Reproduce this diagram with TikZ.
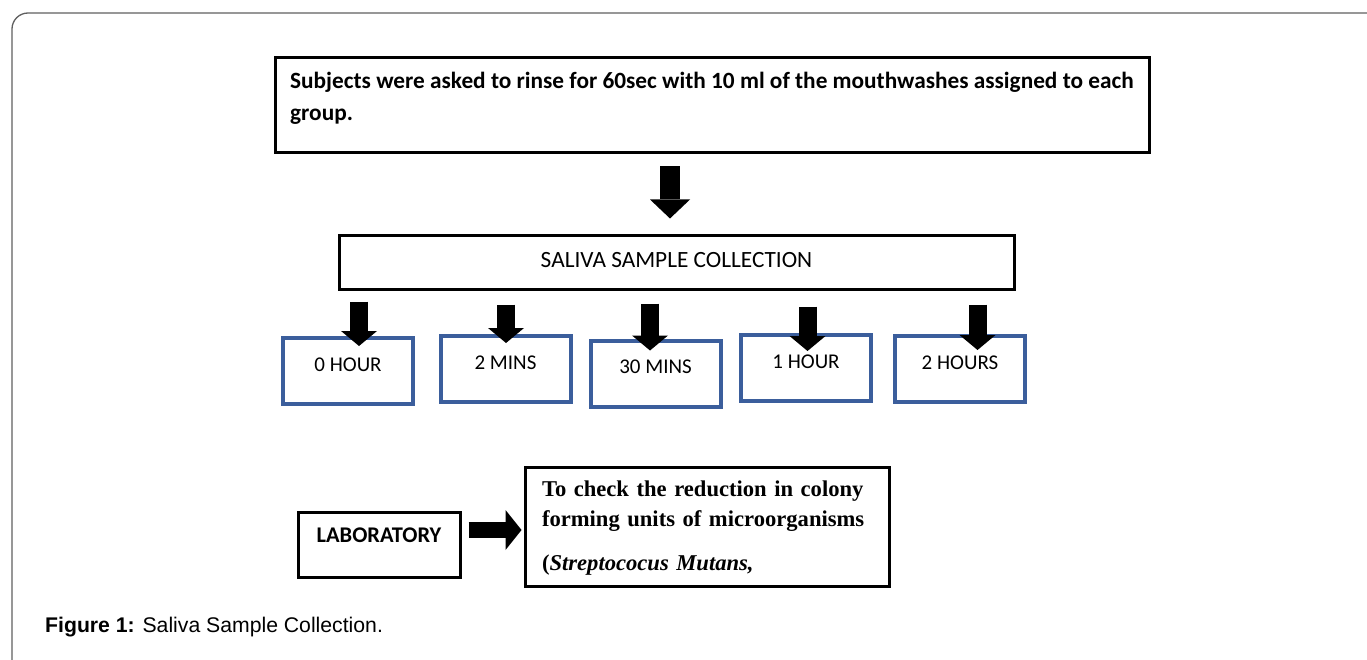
\documentclass[tikz,border=0pt]{standalone}
\usepackage{fontspec}
\setmainfont{Carlito}
\newfontfamily\timesfont{Liberation Serif}
\newfontfamily\arialfont{Liberation Sans}
\usetikzlibrary{arrows.meta}
\usetikzlibrary{calc}
\tikzset{blk/.style = {draw, line width=3pt, inner sep=0}}
\tikzset{tbox/.style = {draw=mblue, line width=4pt, inner sep=0,
                        minimum width=130pt, minimum height=66pt,
                        text height=14pt, text depth=14pt,
                        font=\fontsize{21}{25}\selectfont}}
\tikzset{bigarr/.style = {line width=20pt,
                          -{Triangle[width=40pt, length=19pt, line width=0pt]}}}
\tikzset{blockarr/.style = {line width=18pt,
                            -{Triangle[width=36pt, length=15pt, line width=0pt]}}}
\tikzset{sidearr/.style = {line width=16pt,
                           -{Triangle[width=40pt, length=16pt, line width=0pt]}}}
\definecolor{mblue}{RGB}{59,94,156}
\definecolor{mgray}{RGB}{95,95,95}

\begin{document}
\begin{tikzpicture}[x=1pt, y=-1pt]
      \useasboundingbox (0,0) rectangle (1367,660);
      \draw [mgray, line width=1.3pt, rounded corners=16pt] (12,662) -- (12,13) -- (1369,13);

      \node [blk, minimum width=874pt, minimum height=95pt, align=left,
             text height=48pt, text depth=17pt,
             font=\bfseries\fontsize{23.3}{32}\selectfont] (rinse) at (712,105.5)
            {Subjects were asked to rinse for 60sec with 10 ml of the mouthwashes assigned to each\\group.};
      \node [blk, minimum width=675pt, minimum height=53pt,
             text height=15pt, text depth=6pt,
             font=\fontsize{23.3}{27}\selectfont] (sal) at (676.5,262.5) {SALIVA SAMPLE COLLECTION};

      \node [tbox] (h0) at (348,371) {0 HOUR};
      \node [tbox] (m2) at (505.5,369) {2 MINS};
      \node [tbox] (m30) at (655.5,373.5) {30 MINS};
      \node [tbox] (h1) at (806,368) {1 HOUR};
      \node [tbox] (h2) at (960,369) {2 HOURS};

      \draw [bigarr] ($(rinse.south -| sal.north)+(-6.5,12)$) -- ($(sal.north)+(-6.5,-16)$);
      \foreach \n/\ax/\sg/\tg in {h0/11/11/10, m2/0.5/14/9, m30/-5.5/13/12, h1/1.5/16/18, h2/17.5/14/16} {
        \draw [blockarr] ($(sal.south -| \n.north)+(\ax,\sg)$) -- ($(\n.north)+(\ax,\tg)$);
      }

      \node [blk, minimum width=162pt, minimum height=65pt,
             text height=14pt, text depth=19pt,
             font=\bfseries\fontsize{22.4}{26}\selectfont] (lab) at (379,544.5) {LABORATORY};
      \node [blk, minimum width=364pt, minimum height=119pt, text width=330pt, align=left,
             text height=16pt, text depth=77pt,
             font=\timesfont\bfseries\fontsize{22.6}{30}\selectfont] (chk) at (707,526.5)
            {To check the reduction in colony\\forming units of microorganisms\\[14pt](\textit{Streptococus Mutans,}};
      \draw [sidearr] ($(lab.east)+(7,-14.5)$) -- ($(lab.east -| chk.west)+(-2,-14.5)$);

      \node [anchor=base west, inner sep=0, font=\arialfont\fontsize{21.2}{25}\selectfont] (cap) at (45,632)
            {\textbf{Figure 1:} Saliva Sample Collection.};
    \end{tikzpicture}
\end{document}
